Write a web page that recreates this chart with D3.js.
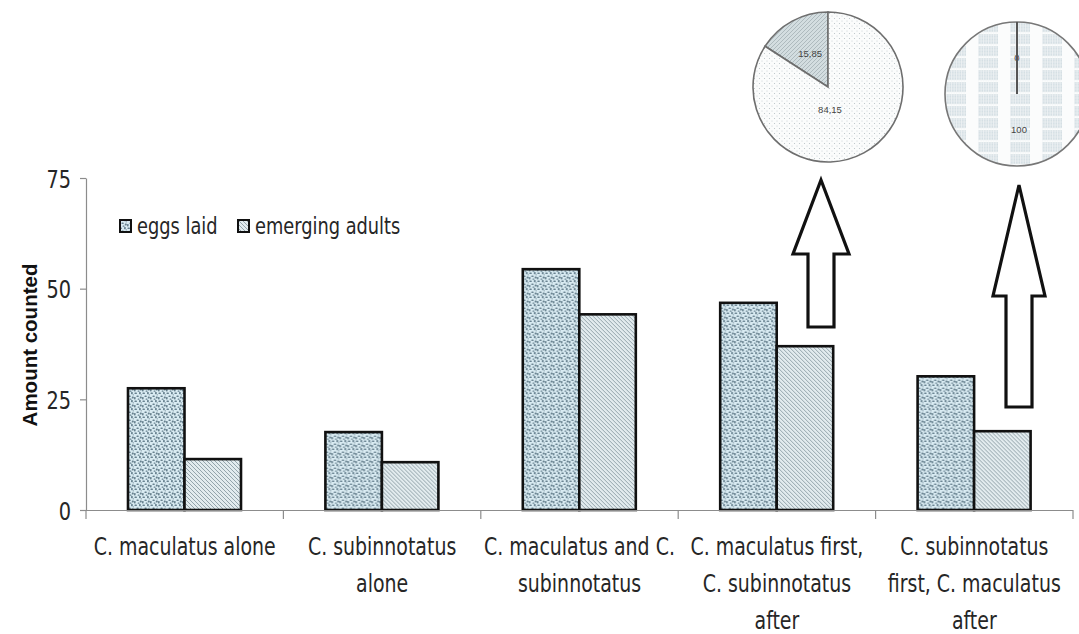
<!DOCTYPE html>
<html>
<head>
<meta charset="utf-8">
<script src="https://cdn.jsdelivr.net/npm/d3@7"></script>
<style>
  html, body { margin: 0; padding: 0; background: #fff; }
  svg { display: block; }
  .lbl { font-family: "Liberation Sans Narrow", "DejaVu Sans Condensed", "Liberation Sans", sans-serif; fill: #262626; }
</style>
</head>
<body>
<svg id="chart" width="1079" height="634"></svg>
<script>
// Treatments on the x axis (each label split into its printed lines)
const categories = [
  "C. maculatus alone",
  "C. subinnotatus alone",
  "C. maculatus and C. subinnotatus",
  "C. maculatus first, C. subinnotatus after",
  "C. subinnotatus first, C. maculatus after"
];
const categoryLines = [
  ["C. maculatus alone"],
  ["C. subinnotatus", "alone"],
  ["C. maculatus and C.", "subinnotatus"],
  ["C. maculatus first,", "C. subinnotatus", "after"],
  ["C. subinnotatus", "first, C. maculatus", "after"]
];
const seriesNames = ["eggs laid", "emerging adults"];
const eggsLaid = [27.5, 17.6, 54.4, 46.8, 30.2];
const emergingAdults = [11.5, 10.8, 44.2, 37.0, 17.8];
const yTicks = [0, 25, 50, 75];

// Inset pies: share (%) of emerging adults by species
const pieA = [15.85, 84.15];
const pieALabels = ["15,85", "84,15"];
const pieB = [0, 100];
const pieBLabels = ["0", "100"];

const svg = d3.select("#chart");
const defs = svg.append("defs");
const NARROW = 0.86; // horizontal squeeze for the condensed label face

// --- fill patterns -------------------------------------------------------
// speckled fill for "eggs laid"
const pEggs = defs.append("pattern").attr("id", "pEggs")
  .attr("patternUnits", "userSpaceOnUse").attr("width", 8).attr("height", 8);
pEggs.append("rect").attr("width", 8).attr("height", 8).attr("fill", "#d9ebf2");
[[0.5,0.5,2.4,1.5],[5,0,1.8,2.2],[2.5,3.5,2.2,1.6],[0,5,1.6,2.4],[5.8,4.6,2,1.8],[3.6,6.6,2,1.2],[6.6,2.2,1.2,1.2]].forEach(([x,y,w,h]) =>
  pEggs.append("rect").attr("x", x).attr("y", y).attr("width", w).attr("height", h)
    .attr("rx", 0.6).attr("fill", "#66808e"));

// diagonal hatch for "emerging adults"
const pAdults = defs.append("pattern").attr("id", "pAdults")
  .attr("patternUnits", "userSpaceOnUse").attr("width", 4).attr("height", 4);
pAdults.append("rect").attr("width", 4).attr("height", 4).attr("fill", "#e2ebee");
pAdults.append("path").attr("d", "M-1,-1 L5,5 M-1,3 L1,5 M3,-1 L5,1")
  .attr("stroke", "#93a4ab").attr("stroke-width", 1);

// light dotted fill (pie)
const pDots = defs.append("pattern").attr("id", "pDots")
  .attr("patternUnits", "userSpaceOnUse").attr("width", 5).attr("height", 5);
pDots.append("rect").attr("width", 5).attr("height", 5).attr("fill", "#fbfcfc");
pDots.append("circle").attr("cx", 1.5).attr("cy", 1.5).attr("r", 0.55).attr("fill", "#b7c0c4");
pDots.append("circle").attr("cx", 4).attr("cy", 4).attr("r", 0.55).attr("fill", "#c5cdd0");

// hatched slice (pie)
const pHatch = defs.append("pattern").attr("id", "pHatch")
  .attr("patternUnits", "userSpaceOnUse").attr("width", 4).attr("height", 4);
pHatch.append("rect").attr("width", 4).attr("height", 4).attr("fill", "#d3dde0");
pHatch.append("path").attr("d", "M-1,5 L5,-1 M-1,1 L1,-1 M3,5 L5,3")
  .attr("stroke", "#a9b6ba").attr("stroke-width", 0.9);

// block-striped fill (pie)
const pBlocks = defs.append("pattern").attr("id", "pBlocks")
  .attr("patternUnits", "userSpaceOnUse").attr("width", 32).attr("height", 24)
  .attr("patternTransform", "translate(951,0)");
pBlocks.append("rect").attr("width", 32).attr("height", 24).attr("fill", "#fbfcfc");
[[2,0,20,10],[2,12,20,10],[0,0,0,0]].forEach(([x,y,w,h]) =>
  pBlocks.append("rect").attr("x", x).attr("y", y).attr("width", w).attr("height", h)
    .attr("fill", "#d5dfe4"));
for (let i = 2; i < 22; i += 2.5) {
  pBlocks.append("line").attr("x1", i + 0.6).attr("x2", i + 0.6).attr("y1", 0).attr("y2", 24)
    .attr("stroke", "#f4f7f8").attr("stroke-width", 0.7);
}
for (let j = 1; j < 24; j += 3) {
  pBlocks.append("line").attr("x1", 2).attr("x2", 22).attr("y1", j).attr("y2", j)
    .attr("stroke", "#eef2f4").attr("stroke-width", 0.6);
}

// --- scales & axes -------------------------------------------------------
const y = d3.scaleLinear().domain([0, 75]).range([510, 178]);
const x = d3.scaleBand().domain(categories).range([86, 1073]);
const x1 = d3.scaleBand().domain(seriesNames).range([42, 155]);

const yAxis = svg.append("g").attr("transform", "translate(86,0)")
  .call(d3.axisLeft(y).tickValues(yTicks).tickSize(6).tickSizeOuter(0).tickPadding(9));
yAxis.select(".domain").attr("stroke", "#8c8c8c").attr("stroke-width", 1.2);
yAxis.selectAll(".tick line").attr("stroke", "#8c8c8c").attr("stroke-width", 1.2);
yAxis.selectAll(".tick text").attr("class", "lbl").attr("font-size", 25).attr("fill", "#262626")
  .attr("x", -15 / NARROW).attr("dy", "0.36em")
  .attr("transform", `scale(${NARROW},1)`);

svg.append("text").attr("transform", "translate(37,345) rotate(-90)")
  .attr("text-anchor", "middle")
  .attr("font-family", "Liberation Sans, Arial, sans-serif")
  .attr("font-weight", "bold").attr("font-size", 20.5).attr("fill", "#111")
  .text("Amount counted");

// bars
const rows = categories.map((c, i) => ({ cat: c, vals: [eggsLaid[i], emergingAdults[i]] }));
const fills = { "eggs laid": "url(#pEggs)", "emerging adults": "url(#pAdults)" };
const groups = svg.append("g").selectAll("g").data(rows).join("g")
  .attr("transform", d => `translate(${x(d.cat)},0)`);
groups.selectAll("rect")
  .data(d => d.vals.map((v, k) => ({ key: seriesNames[k], v })))
  .join("rect")
  .attr("x", d => x1(d.key))
  .attr("width", x1.bandwidth())
  .attr("y", d => y(d.v))
  .attr("height", d => y(0) - y(d.v))
  .attr("fill", d => fills[d.key])
  .attr("stroke", "#111").attr("stroke-width", 2.6);

// x axis line with boundary ticks
const xAxis = svg.append("g").attr("transform", `translate(0,${y(0)})`)
  .call(d3.axisBottom(x).tickSize(0).tickSizeOuter(0).tickFormat(""));
xAxis.select(".domain").attr("stroke", "#8c8c8c").attr("stroke-width", 1.2)
  .attr("d", `M80,0.5H${x.range()[1]}`);
const bounds = categories.map(c => x(c)).concat([x.range()[1]]);
xAxis.selectAll(".bound").data(bounds).join("line").attr("class", "bound")
  .attr("x1", d => d).attr("x2", d => d).attr("y1", 0).attr("y2", 9)
  .attr("stroke", "#8c8c8c").attr("stroke-width", 1.2);

// category labels
const catG = svg.append("g").selectAll("g").data(categories).join("g")
  .attr("transform", d => `translate(${x(d) + x.bandwidth() / 2},555) scale(${NARROW},1)`);
catG.append("text").attr("class", "lbl").attr("font-size", 24.5).attr("text-anchor", "middle")
  .selectAll("tspan").data((d, i) => categoryLines[i]).join("tspan")
  .attr("x", 0).attr("dy", (d, i) => i === 0 ? 0 : 37)
  .text(d => d);

// legend
const legend = svg.append("g").attr("transform", "translate(119,219)");
const legendX = [0, 118];
seriesNames.forEach((s, i) => {
  const g = legend.append("g").attr("transform", `translate(${legendX[i]},0)`);
  g.append("rect").attr("x", 1).attr("y", 1).attr("width", 11).attr("height", 12)
    .attr("fill", fills[s]).attr("stroke", "#111").attr("stroke-width", 2);
  g.append("text").attr("class", "lbl").attr("transform", `translate(18,15) scale(${NARROW},1)`)
    .attr("font-size", 23).text(s);
});

// --- arrows pointing to the inset pies ----------------------------------
function arrowPath(tipX, tipY, headY, headHalf, shaftHalf, baseY) {
  const p = d3.path();
  p.moveTo(tipX, tipY);
  p.lineTo(tipX + headHalf, headY);
  p.lineTo(tipX + shaftHalf, headY);
  p.lineTo(tipX + shaftHalf, baseY);
  p.lineTo(tipX - shaftHalf, baseY);
  p.lineTo(tipX - shaftHalf, headY);
  p.lineTo(tipX - headHalf, headY);
  p.closePath();
  return p.toString();
}
const arrowA = { tipY: 180, headY: 254, headHalf: 28, shaftHalf: 13, baseY: 327 };
const arrowB = { tipY: 185, headY: 296, headHalf: 26, shaftHalf: 13, baseY: 407 };
[[arrowA, 821], [arrowB, 1019]].forEach(([a, cx]) => {
  svg.append("path").attr("d", arrowPath(cx, a.tipY, a.headY, a.headHalf, a.shaftHalf, a.baseY))
    .attr("fill", "#fff").attr("stroke", "#111").attr("stroke-width", 3.2)
    .attr("stroke-linejoin", "miter");
});

// --- inset pies ----------------------------------------------------------
function drawPie(values, labels, cx, cy, r, sliceFills, bigLabelDy, stroke) {
  const start = -2 * Math.PI * values[0] / d3.sum(values);
  const pie = d3.pie().sort(null).startAngle(start).endAngle(start + 2 * Math.PI);
  const arcs = pie(values);
  const arc = d3.arc().innerRadius(0).outerRadius(r);
  const lab = d3.arc().innerRadius(r * 0.5).outerRadius(r * 0.5);
  const g = svg.append("g").attr("transform", `translate(${cx},${cy})`);
  g.selectAll("path").data(arcs).join("path")
    .attr("d", arc)
    .attr("fill", (d, i) => sliceFills[i])
    .attr("stroke", stroke[0]).attr("stroke-width", stroke[1]);
  g.selectAll("text").data(arcs).join("text")
    .attr("font-family", "Liberation Sans, Arial, sans-serif")
    .attr("font-size", 9.5).attr("fill", "#444").attr("text-anchor", "middle")
    .attr("dy", "0.35em")
    .attr("x", (d, i) => i === 0 ? lab.centroid(d)[0] : 2)
    .attr("y", (d, i) => i === 0 ? lab.centroid(d)[1] : bigLabelDy)
    .text((d, i) => labels[i]);
}
drawPie(pieA, pieALabels, 828, 87, 75, ["url(#pHatch)", "url(#pDots)"], 23, ["#6e6e6e", 1.6]);
drawPie(pieB, pieBLabels, 1017, 94, 72, ["#fff", "url(#pBlocks)"], 36, ["#777", 1.6]);
// the zero-width slice shows as a single radius
svg.append("line").attr("x1", 1017).attr("x2", 1017).attr("y1", 94).attr("y2", 94 - 72)
  .attr("stroke", "#555").attr("stroke-width", 2);
</script>
</body>
</html>
